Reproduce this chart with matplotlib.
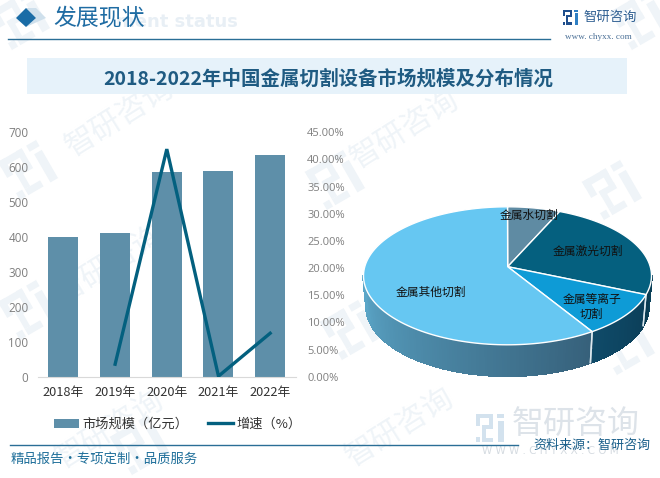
import numpy as np
import matplotlib
matplotlib.use("Agg")
import matplotlib.pyplot as plt
from matplotlib.patches import Polygon, Rectangle
from matplotlib.transforms import Affine2D

plt.rcParams['font.family'] = ['Noto Sans CJK SC', 'DejaVu Sans']

years = ['2018年', '2019年', '2020年', '2021年', '2022年']
market = [400, 412, 586, 590, 635]
growth = [np.nan, 2.3, 41.9, 0.1, 8.0]
left_ticks = [0, 100, 200, 300, 400, 500, 600, 700]
right_ticks = [0, 5, 10, 15, 20, 25, 30, 35, 40, 45]
pie_labels = ['金属水切割', '金属激光切割', '金属等离子\n切割', '金属其他切割']
pie_shares = [5.9, 23.5, 10.6, 60.0]

W, H = 660, 478
fig = plt.figure(figsize=(6.6, 4.78), dpi=100, facecolor='white')
bg = fig.add_axes([0, 0, 1, 1], zorder=0)
bg.set_xlim(0, W); bg.set_ylim(H, 0); bg.axis('off')

# ---- watermarks
WM = '#EFF4F8'
def logo(ax, cx, cy, s, color, color2=None, rot=-30, z=1):
    color2 = color2 or color
    tr = Affine2D().rotate_deg_around(cx, cy, rot) + ax.transData
    parts = [(-.5, -.5, .62, .16), (-.5, -.5, .16, .42), (-.02, -.5, .14, .5),
             (-.28, -.12, .4, .14), (-.28, -.12, .14, .46), (-.28, .34, .4, .16), (-.5, .32, .16, .18)]
    for px, py, pw, ph in parts:
        ax.add_patch(Rectangle((cx + px*s, cy + py*s), pw*s, ph*s, fc=color, ec='none', transform=tr, zorder=z))
    for px, py, pw, ph in [(.24, -.5, .26, .16), (.3, -.24, .2, .74)]:
        ax.add_patch(Rectangle((cx + px*s, cy + py*s), pw*s, ph*s, fc=color2, ec='none', transform=tr, zorder=z))

for cx, cy in [(28, 170), (28, 310), (335, 180), (612, 190), (350, 330), (625, 345), (140, 445), (20, 20), (640, 20)]:
    logo(bg, cx, cy, 44, WM)
for cx, cy in [(120, 118), (110, 265), (405, 130), (110, 430), (400, 428)]:
    bg.text(cx, cy, '智研咨询', fontsize=22, color=WM, rotation=32, ha='center', va='center', zorder=1)

# ---- header
bg.add_patch(Polygon([(16, 18), (26, 8), (36, 18), (26, 27)], fc='#1A6CA6', ec='none', zorder=3))
bg.add_patch(Polygon([(26, 8), (36, 18), (26, 27), (46, 18), (36, 8)], fc='#CFE0EC', ec='none', zorder=2))
bg.text(238, 22, 'ment status', fontsize=13, fontweight='bold', color='#E8EFF5', ha='right', va='center', family='DejaVu Sans', zorder=2)
bg.text(53, 18, '发展现状', fontsize=16.5, color='#1F6CA3', ha='left', va='center', zorder=3)
bg.plot([8, 550], [38.5, 38.5], color='#2A6E96', lw=1.0, zorder=3)
logo(bg, 570, 17, 15, '#1F4E8C', '#2E7FC4', rot=0, z=3)
bg.text(584, 17, '智研咨询', fontsize=9.6, color='#2F5F92', ha='left', va='center', zorder=3)
bg.text(598.5, 36.5, 'www. chyxx. com', fontsize=6.6, color='#4A6F96', ha='center', va='center', family='Liberation Serif', zorder=3)

# ---- title band
bg.add_patch(Rectangle((27, 58), 600, 36, fc='#E6F2FA', ec='none', zorder=2))
bg.text(328, 79, '2018-2022年中国金属切割设备市场规模及分布情况', fontsize=14, fontweight='bold',
        color='#1F5B82', ha='center', va='center', zorder=3)

# ---- combo chart
L, R, T, B = 37.6, 296.0, 132.3, 376.7
ax = fig.add_axes([L/W, 1 - B/H, (R-L)/W, (B-T)/H], zorder=2)
ax.patch.set_alpha(0)
x = np.arange(len(years))
bars = ax.bar(x, market, width=0.58, color='#5E8FA9', label='市场规模（亿元）')
ax.set_xlim(-0.5, 4.5); ax.set_ylim(0, 700)
ax.set_yticks(left_ticks); ax.set_xticks(x); ax.set_xticklabels(years)
ax.tick_params(axis='y', length=0, labelsize=8.4, labelcolor='#7F7F7F', pad=6.5)
ax.tick_params(axis='x', length=0, labelsize=9.2, labelcolor='#333333', pad=7)
for lb in ax.get_yticklabels():
    lb.set_family(['Open Sans'])
for s in ['top', 'left', 'right']:
    ax.spines[s].set_visible(False)
ax.spines['bottom'].set_color('#D9D9D9')

ax2 = ax.twinx()
ax2.patch.set_alpha(0)
ln, = ax2.plot(x, growth, color='#03607F', lw=2.4, solid_joinstyle='miter', label='增速（%）')
ax2.set_ylim(0, 45)
ax2.set_yticks(right_ticks)
ax2.set_yticklabels([f'{v:.2f}%' for v in right_ticks], family=['Open Sans'])
ax2.tick_params(axis='y', length=0, labelsize=8.0, labelcolor='#7F7F7F', pad=8)
for s in ax2.spines.values():
    s.set_visible(False)

leg = fig.legend(handles=[bars, ln], labels=['市场规模（亿元）', '增速（%）'], loc='center',
                 bbox_to_anchor=(178/W, 1 - 424.5/H), ncol=2, frameon=False, fontsize=9.5,
                 handlelength=1.9, handletextpad=0.25, columnspacing=1.5, labelcolor='#333333', borderpad=0)

# ---- 3-D pie
CX, CY, RX, RY = 507.5, 275.8, 144.0, 69.0
APEX = (507.7, 266.7)
DEPTH = 31.0
pie_colors = ['#5F8BA3', '#05607F', '#0E9BD6', '#66C7F2']
wall_from = ['#5F8BA3', '#0A4560', '#0B3E58', '#36607A']
wall_to = ['#5F8BA3', '#0A3A50', '#0F4A68', '#5BA6C8']

def top_pt(t):
    return CX + RX*np.sin(t), CY - RY*np.cos(t)
def bot_pt(t):
    return CX + (RX - 3)*np.sin(t), CY + DEPTH - RY*np.cos(t)
def hex2rgb(h):
    return np.array(matplotlib.colors.to_rgb(h))

edges = np.deg2rad(np.concatenate([[0], np.cumsum(pie_shares)]) / sum(pie_shares) * 360)

# side walls (front half only)
for i, (a, b) in enumerate(zip(edges[:-1], edges[1:])):
    lo, hi = max(a, np.pi/2), min(b, 3*np.pi/2)
    if hi <= lo:
        continue
    ts = np.linspace(lo, hi, int((hi - lo)*50) + 2)
    c0, c1 = hex2rgb(wall_from[i]), hex2rgb(wall_to[i])
    for j, (t0, t1) in enumerate(zip(ts[:-1], ts[1:])):
        f = j / max(len(ts) - 2, 1)
        col = c0*(1 - f) + c1*f
        bg.add_patch(Polygon([top_pt(t0), top_pt(t1), bot_pt(t1), bot_pt(t0)], fc=col, ec=col, lw=1.2,
                             antialiased=False, zorder=4))
    for t in (a, b):
        if np.pi/2 <= t <= 3*np.pi/2:
            tp, bp = top_pt(t), bot_pt(t)
            bg.plot([tp[0], bp[0]], [tp[1], bp[1]], color='#DCE8EE', lw=1.0, zorder=5)

# top faces
for i, (a, b) in enumerate(zip(edges[:-1], edges[1:])):
    ts = np.linspace(a, b, 120)
    pts = [APEX] + [top_pt(t) for t in ts]
    bg.add_patch(Polygon(pts, closed=True, fc=pie_colors[i], ec='white', lw=1.0, joinstyle='round', zorder=6))

label_pos = [(528.8, 215), (587.7, 251), (591.7, 306.7), (431, 292.3)]
for name, (px, py) in zip(pie_labels, label_pos):
    bg.text(px, py, name, fontsize=8.5, color='#111111', ha='center', va='center', linespacing=1.15, zorder=8)

# ---- footer
logo(bg, 490, 428, 28, '#D3E2EE', rot=0, z=2)
bg.text(576, 424, '智研咨询', fontsize=23, color='#DDE3E9', ha='center', va='center', zorder=2)
bg.text(550, 451, 'W W W . C H Y X X . C O M', fontsize=7.5, color='#D5DBE1', ha='center', va='center', family='DejaVu Sans', zorder=2)
bg.plot([10, 518], [444.5, 444.5], color='#2A6E96', lw=1.0, zorder=3)
bg.text(11, 459, '精品报告·专项定制·品质服务', fontsize=9.6, color='#1F6F9A', ha='left', va='center', zorder=3)
bg.text(650, 445, '资料来源：智研咨询', fontsize=9.4, color='#1A5F8A', ha='right', va='center', zorder=3)

fig.savefig('out.png', dpi=100)
